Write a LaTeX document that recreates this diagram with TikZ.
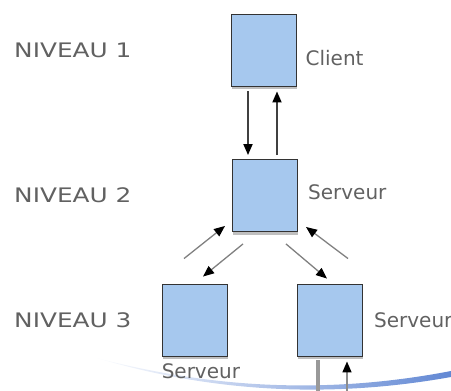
\documentclass[tikz,border=0pt]{standalone}
\usepackage{fontspec}
\setmainfont{DejaVu Sans}
\usepackage{tikz}
\usetikzlibrary{arrows.meta, positioning, shadows}
\definecolor{tierBlue}{RGB}{166,200,238}
\definecolor{swooshBlue}{RGB}{98,136,212}
\tikzstyle{tier} = [rectangle, minimum width=65pt, minimum height=72pt, inner sep=0pt, draw=black!80, line width=0.9pt, fill=tierBlue, drop shadow={shadow xshift=0.6pt, shadow yshift=-3pt, fill=black!25, opacity=1}]
\tikzstyle{caption} = [font=\fontsize{20}{24}\selectfont, text=black!62, inner sep=0pt]
\newcommand{\wide}[1]{\scalebox{1.24}[1]{#1}}

\begin{document}
\begin{tikzpicture}[x=1pt, y=-1pt]
            \tikzstyle{call} = [-{Triangle[length=11pt, width=9pt, black]}, draw=black!75, line width=1.8pt]
            \tikzstyle{diag} = [call, draw=black!50, line width=1.3pt]
            \tikzstyle{feed} = [draw=black!40, line width=3.5pt]

            \useasboundingbox (0,0) rectangle (451,391);

            % decorative swoosh at the bottom
            \shade[left color=white, right color=swooshBlue] (93,357) .. controls (180,380) and (300,400) .. (451,371) -- (451,377) .. controls (300,404) and (180,383) .. (93,357) -- cycle;

            \coordinate (lvl) at (14,0);

            \node[tier] (client) at (263.5,50) {};
            \node[tier, below of=client, node distance=145.5pt, xshift=1.5pt] (server) {};
            \node[tier, below of=server, node distance=124.5pt, xshift=-70.5pt] (leftServer) {};
            \node[tier, below of=server, node distance=124.5pt, xshift=65pt] (rightServer) {};

            \node[caption, anchor=west] (level1) at (client -| lvl) {\wide{NIVEAU 1}};
            \node[caption, anchor=west] (level2) at (server -| lvl) {\wide{NIVEAU 2}};
            \node[caption, anchor=west] (level3) at (leftServer -| lvl) {\wide{NIVEAU 3}};

            \node[caption, right=9pt of client, yshift=-8.5pt] (clientText) {Client};
            \node[caption, right=10pt of server, yshift=3.5pt] (serverText) {Serveur};
            \node[caption, right=11pt of rightServer] (rightText) {Serveur};
            \node[caption, below=7pt of leftServer.south west, anchor=north west] (leftText) {Serveur};

            \coordinate (down) at (318,396);
            \coordinate (up) at (347,396);

            \draw[call] ([xshift=-15.5pt, yshift=-5pt]client.south) -- ([xshift=-17pt, yshift=4pt]server.north);
            \draw[call] ([xshift=12pt, yshift=4pt]server.north) -- ([xshift=13.5pt, yshift=-5pt]client.south);

            \draw[diag] ([xshift=-10.5pt, yshift=25pt]leftServer.north) -- ([xshift=-40pt, yshift=6pt]server.south);
            \draw[diag] ([xshift=-22pt, yshift=-12pt]server.south) -- ([xshift=8.5pt, yshift=7pt]leftServer.north);
            \draw[diag] ([xshift=21pt, yshift=-12pt]server.south) -- ([xshift=-3pt, yshift=5pt]rightServer.north);
            \draw[diag] ([xshift=18pt, yshift=25pt]rightServer.north) -- ([xshift=41pt, yshift=5pt]server.south);

            \draw[feed] ([xshift=-12pt, yshift=-4pt]rightServer.south) -- (down);
            \draw[call, draw=black!45, line width=1.6pt] (up) -- ([xshift=17pt, yshift=-5pt]rightServer.south);

        \end{tikzpicture}
\end{document}
